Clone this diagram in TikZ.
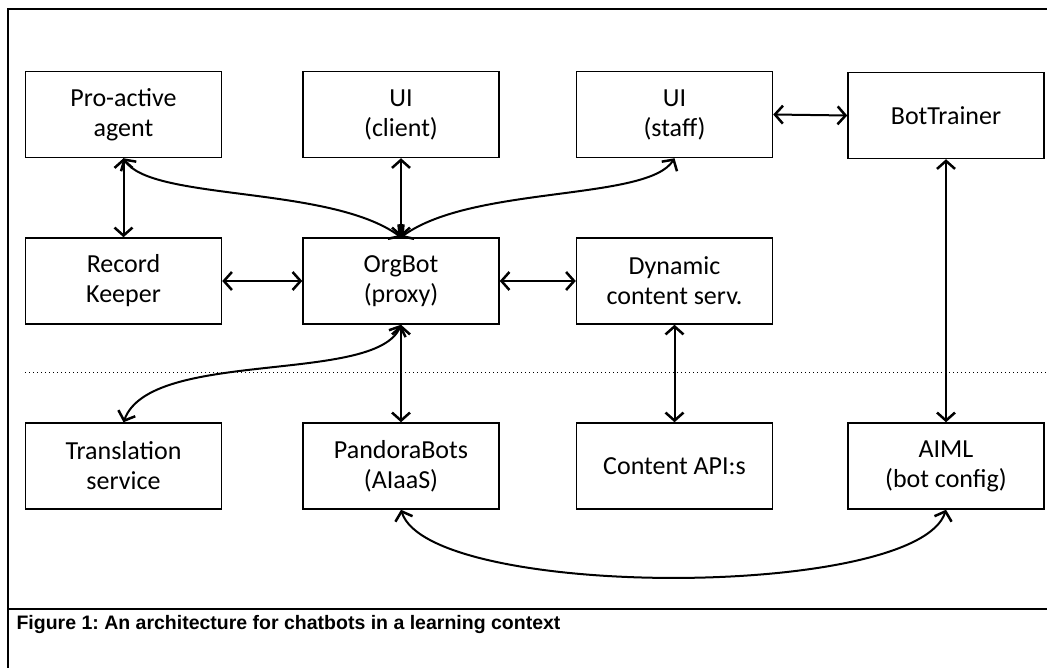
\documentclass[tikz,border=0pt]{standalone}
\usepackage{fontspec}
\setmainfont{Carlito}
\newfontfamily\capfont{Liberation Sans}
\usetikzlibrary{arrows.meta}
\tikzset{>={Straight Barb[length=8pt,width=18pt,line width=2.5pt]}}
\tikzset{unit/.style={draw, line width=1.5pt, minimum width=196pt, minimum height=86pt,
    inner sep=0pt, align=center, font=\fontsize{26}{30}\selectfont}}
\tikzset{link/.style={<->, line width=2pt}}

\begin{document}
\frenchspacing
\begin{tikzpicture}[x=1pt,y=-1pt]
        \useasboundingbox (0,0) rectangle (1047,668);
        % frame and divider
        \draw [line width=2.2pt] (8,668)--(8,9)--(1047,9);
        \draw [line width=2.2pt] (8,609)--(1047,609);
        \draw [line width=1pt, dash pattern=on 1pt off 3pt] (25,372)--(1047,372);
        % top row
        \node [unit] (agent) at (123.5,114.5) {Pro-active\\agent};
        \node [unit] (uiclient) at (401,114.5) {UI\\(client)};
        \node [unit] (uistaff) at (674.5,114.5) {UI\\(staff)};
        \node [unit] (trainer) at (946,115.5) {BotTrainer};
        % middle row
        \node [unit] (keeper) at (123.5,281) {Record\\Keeper};
        \node [unit] (orgbot) at (401,281) {OrgBot\\(proxy)};
        \node [unit] (dynamic) at (674.5,281) {Dynamic\\content serv.};
        % bottom row
        \node [unit] (transl) at (123.5,466) {Translation\\service};
        \node [unit] (pandora) at (401,466) {PandoraBots\\(AIaaS)};
        \node [unit] (content) at (674.5,466) {Content API:s};
        \node [unit] (aiml) at (946,466) {AIML\\(bot config)};
        % connectors
        \draw [link] (uistaff.east)--(trainer.west);
        \draw [link] (agent.south)--(keeper.north);
        \draw [link] (uiclient.south)--(orgbot.north);
        \draw [link] (agent.south) .. controls +(27,43) and +(-71,-52) .. (orgbot.north);
        \draw [link] (uistaff.south) .. controls +(-27,43) and +(71,-52) .. (orgbot.north);
        \draw [link] (keeper.east)--(orgbot.west);
        \draw [link] (orgbot.east)--(dynamic.west);
        \draw [link] (orgbot.south)--(pandora.north);
        \draw [link] (orgbot.south) .. controls +(-25,60) and +(27,-74) .. (transl.north);
        \draw [link] (dynamic.south)--(content.north);
        \draw [link] (trainer.south)--(aiml.north);
        \draw [link] (pandora.south) .. controls +(29,90) and +(-29,90) .. (aiml.south);
        % caption
        \node [anchor=base west, font=\capfont\bfseries\fontsize{19.5}{23}\selectfont] (caption)
          at (13,629) {Figure 1: An architecture for chatbots in a learning context};
\end{tikzpicture}
\end{document}
